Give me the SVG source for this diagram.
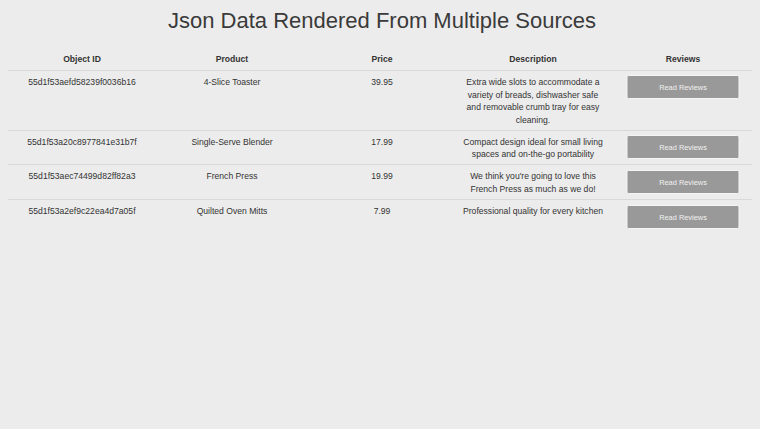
<svg xmlns="http://www.w3.org/2000/svg" width="760" height="429" viewBox="0 0 760 429">
<style>
text{font-family:"Liberation Sans",Arial,Helvetica,sans-serif;fill:#333;text-anchor:middle}
.title{font-size:22px;fill:#3a3a3a}
.th{font-size:8.6px;font-weight:bold}
.td{font-size:8.6px}
.rule{stroke:#d9d9d9;stroke-width:1}
.btn{fill:#999;stroke:#f5f5f5;stroke-width:1}
.btxt{font-size:7.4px;fill:#f2f2f2}
</style>
<rect width="760" height="429" fill="#ececec"/>
<text class="title" x="382" y="28">Json Data Rendered From Multiple Sources</text>
<g id="header">
<text class="th" x="82" y="62">Object ID</text>
<text class="th" x="232" y="62">Product</text>
<text class="th" x="382" y="62">Price</text>
<text class="th" x="533" y="62">Description</text>
<text class="th" x="683" y="62">Reviews</text>
</g>
<g id="rules">
<line class="rule" x1="8" y1="70.5" x2="752" y2="70.5"/>
<line class="rule" x1="8" y1="130.5" x2="752" y2="130.5"/>
<line class="rule" x1="8" y1="164.5" x2="752" y2="164.5"/>
<line class="rule" x1="8" y1="199.5" x2="752" y2="199.5"/>
</g>
<g id="row1">
<text class="td" x="82" y="85">55d1f53aefd58239f0036b16</text>
<text class="td" x="232" y="85">4-Slice Toaster</text>
<text class="td" x="382" y="85">39.95</text>
<text class="td" x="533" y="85">Extra wide slots to accommodate a</text>
<text class="td" x="533" y="97.5">variety of breads, dishwasher safe</text>
<text class="td" x="533" y="110">and removable crumb tray for easy</text>
<text class="td" x="533" y="122.5">cleaning.</text>
<rect class="btn" x="627" y="75.5" width="112" height="23" rx="1.5"/>
<text class="btxt" x="683" y="89.5">Read Reviews</text>
</g>
<g id="row2">
<text class="td" x="82" y="144.5">55d1f53a20c8977841e31b7f</text>
<text class="td" x="232" y="144.5">Single-Serve Blender</text>
<text class="td" x="382" y="144.5">17.99</text>
<text class="td" x="533" y="144.5">Compact design ideal for small living</text>
<text class="td" x="533" y="157">spaces and on-the-go portability</text>
<rect class="btn" x="627" y="135.5" width="112" height="23" rx="1.5"/>
<text class="btxt" x="683" y="149.5">Read Reviews</text>
</g>
<g id="row3">
<text class="td" x="82" y="179">55d1f53aec74499d82ff82a3</text>
<text class="td" x="232" y="179">French Press</text>
<text class="td" x="382" y="179">19.99</text>
<text class="td" x="533" y="179">We think you're going to love this</text>
<text class="td" x="533" y="191.5">French Press as much as we do!</text>
<rect class="btn" x="627" y="170.5" width="112" height="23" rx="1.5"/>
<text class="btxt" x="683" y="184.5">Read Reviews</text>
</g>
<g id="row4">
<text class="td" x="82" y="214">55d1f53a2ef9c22ea4d7a05f</text>
<text class="td" x="232" y="214">Quilted Oven Mitts</text>
<text class="td" x="382" y="214">7.99</text>
<text class="td" x="533" y="214">Professional quality for every kitchen</text>
<rect class="btn" x="627" y="205.5" width="112" height="23" rx="1.5"/>
<text class="btxt" x="683" y="219.5">Read Reviews</text>
</g>
</svg>
